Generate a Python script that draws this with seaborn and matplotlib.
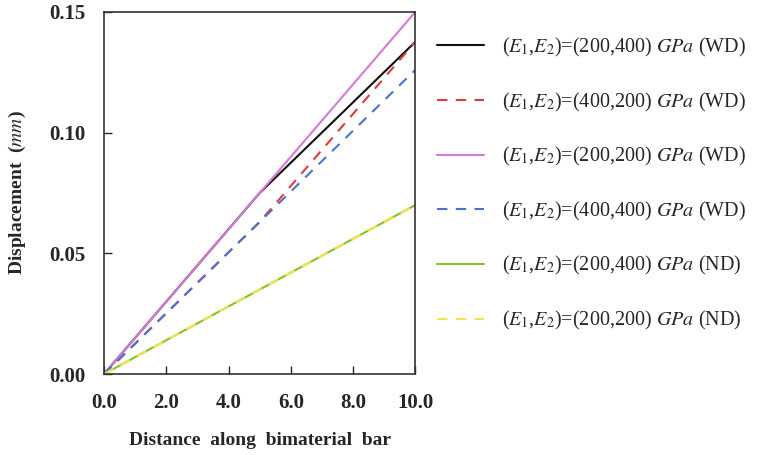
import matplotlib
matplotlib.use("Agg")
import matplotlib.pyplot as plt
import seaborn as sns
import pandas as pd

# Data
distance = [0.0, 5.0, 10.0]
disp_200_400_wd = [0.0, 0.075, 0.1376]
disp_400_200_wd = [0.0, 0.063, 0.1376]
disp_200_200_wd = [0.0, 0.075, 0.150]
disp_400_400_wd = [0.0, 0.063, 0.126]
disp_200_400_nd = [0.0, 0.035, 0.070]
disp_200_200_nd = [0.0, 0.035, 0.070]

labels = [
    r"($E_1$,$E_2$)=(200,400) $GPa$ (WD)",
    r"($E_1$,$E_2$)=(400,200) $GPa$ (WD)",
    r"($E_1$,$E_2$)=(200,200) $GPa$ (WD)",
    r"($E_1$,$E_2$)=(400,400) $GPa$ (WD)",
    r"($E_1$,$E_2$)=(200,400) $GPa$ (ND)",
    r"($E_1$,$E_2$)=(200,200) $GPa$ (ND)",
]
series = [disp_200_400_wd, disp_400_200_wd, disp_200_200_wd,
          disp_400_400_wd, disp_200_400_nd, disp_200_200_nd]
colors = ["#111111", "#e03a3a", "#d67ad6", "#4a72d0", "#86c226", "#f2e44a"]
styles = ["-", (0, (5, 4)), "-", (0, (5, 4)), "-", (0, (5, 4))]

sns.set_style("white")
plt.rcParams["font.family"] = ["Liberation Serif", "DejaVu Serif"]
plt.rcParams["mathtext.fontset"] = "stix"

fig = plt.figure(figsize=(7.65, 4.55), dpi=100)
ax = fig.add_axes([0.136, 0.178, 0.407, 0.796])

for lab, ys, c, ls in zip(labels, series, colors, styles):
    df = pd.DataFrame({"x": distance, "y": ys})
    sns.lineplot(data=df, x="x", y="y", ax=ax, color=c, linestyle=ls,
                 linewidth=1.5, label=lab)

ax.set_xlim(0, 10)
ax.set_ylim(0, 0.15)
ax.set_xticks([0, 2, 4, 6, 8, 10])
ax.set_xticklabels(["0.0", "2.0", "4.0", "6.0", "8.0", "10.0"])
ax.set_yticks([0, 0.05, 0.10, 0.15])
ax.set_yticklabels(["0.00", "0.05", "0.10", "0.15"])
ax.tick_params(direction="in", length=6, width=1, labelsize=15,
               bottom=True, left=True, top=False, right=False)
ax.tick_params(axis="x", pad=14)
ax.tick_params(axis="y", pad=13)
for t in ax.get_xticklabels() + ax.get_yticklabels():
    t.set_fontweight("bold")
for s in ax.spines.values():
    s.set_color("#333333")
    s.set_linewidth(1.2)

ax.set_xlabel("Distance  along  bimaterial  bar", fontsize=14,
              fontweight="bold", labelpad=13)
ax.set_ylabel(r"Displacement  ($mm$)", fontsize=14, fontweight="bold",
              labelpad=16)

leg = ax.legend(loc="upper left", bbox_to_anchor=(1.045, 0.956), frameon=False,
                fontsize=14.5, handlelength=2.3, handletextpad=0.9,
                labelspacing=1.57, borderaxespad=0)

fig.savefig("out.png", dpi=100)
